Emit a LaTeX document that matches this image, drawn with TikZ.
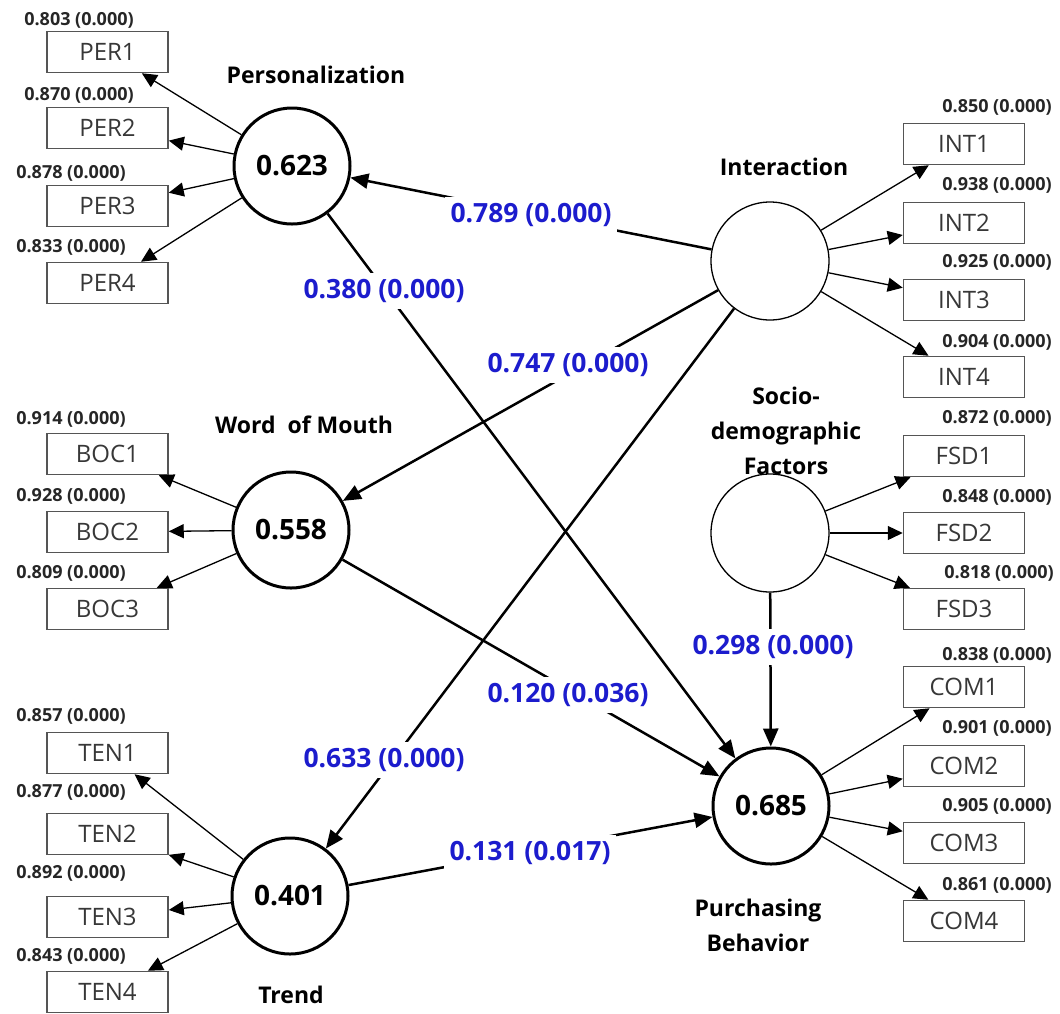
\documentclass[tikz,border=0pt]{standalone}
\usepackage{fontspec}
\setmainfont{Open Sans}
\usetikzlibrary{arrows.meta}
\definecolor{pathblue}{RGB}{28,28,205}
\definecolor{boxgray}{RGB}{85,85,85}
\definecolor{boxtext}{RGB}{55,55,55}
\begin{document}
\begin{tikzpicture}[x=1pt,y=-1pt,
  lv/.style={circle, draw, line width=3pt, minimum size=116pt, inner sep=0pt, font=\fontsize{28}{32}\selectfont\bfseries},
  lvthin/.style={circle, draw, line width=1.3pt, minimum size=118pt, inner sep=0pt},
  ind/.style={rectangle, draw=boxgray, line width=1.5pt, minimum width=121pt, minimum height=41pt, inner sep=0pt, text=boxtext, font=\fontsize{24}{28}\selectfont},
  ld/.style={font=\fontsize{18}{22}\selectfont\bfseries, text=black!85, inner sep=0pt},
  lvname/.style={font=\fontsize{23}{35}\selectfont\bfseries, align=center, inner sep=0pt},
  coef/.style={font=\fontsize{26.5}{30}\selectfont\bfseries, text=pathblue, fill=white, inner sep=6pt},
  struct/.style={line width=2.5pt, -{Triangle[length=18pt,width=15pt]}},
  meas/.style={line width=1.3pt, -{Triangle[length=15pt,width=14pt]}}]
\useasboundingbox (0,0) rectangle (1060,1013);

% latent variables
\node[lv] (P) at (292,166) {0.623};
\node[lvthin] (I) at (770,261) {};
\node[lv] (W) at (291,530) {0.558};
\node[lvthin] (S) at (770,533) {};
\node[lv] (T) at (290,896) {0.401};
\node[lv] (B) at (771,806) {0.685};

% indicators left
\node[ind] (PER1) at (107.5,52) {PER1};
\node[ind] (PER2) at (107.5,128) {PER2};
\node[ind] (PER3) at (107.5,206) {PER3};
\node[ind] (PER4) at (107.5,283) {PER4};
\node[ind] (BOC1) at (107.5,454) {BOC1};
\node[ind] (BOC2) at (107.5,532) {BOC2};
\node[ind] (BOC3) at (107.5,609) {BOC3};
\node[ind] (TEN1) at (107.5,753) {TEN1};
\node[ind] (TEN2) at (107.5,834) {TEN2};
\node[ind] (TEN3) at (107.5,917) {TEN3};
\node[ind] (TEN4) at (107.5,992) {TEN4};
% indicators right
\node[ind] (INT1) at (964,144) {INT1};
\node[ind] (INT2) at (964,223) {INT2};
\node[ind] (INT3) at (964,300) {INT3};
\node[ind] (INT4) at (964,377) {INT4};
\node[ind] (FSD1) at (964,456) {FSD1};
\node[ind] (FSD2) at (964,533) {FSD2};
\node[ind] (FSD3) at (964,609) {FSD3};
\node[ind] (COM1) at (964,687) {COM1};
\node[ind] (COM2) at (964,766) {COM2};
\node[ind] (COM3) at (964,843) {COM3};
\node[ind] (COM4) at (964,921) {COM4};

% measurement arrows
\foreach \k in {1,2,3,4} {\draw[meas] (P) -- (PER\k);}
\foreach \k in {1,2,3} {\draw[meas] (W) -- (BOC\k);}
\foreach \k in {1,2,3,4} {\draw[meas] (T) -- (TEN\k);}
\foreach \k in {1,2,3,4} {\draw[meas] (I) -- (INT\k);}
\foreach \k in {1,2,3} {\draw[meas] (S) -- (FSD\k);}
\foreach \k in {1,2,3,4} {\draw[meas] (B) -- (COM\k);}

% structural paths
\draw[struct] (I) -- (P);
\draw[struct] (I) -- (W);
\draw[struct] (I) -- (T);
\draw[struct] (P) -- (B);
\draw[struct] (W) -- (B);
\draw[struct] (T) -- (B);
\draw[struct] (S) -- (B);

% path coefficients
\node[coef] (c1) at (531,215) {0.789 (0.000)};
\node[coef] (c2) at (384,291) {0.380 (0.000)};
\node[coef] (c3) at (568,365) {0.747 (0.000)};
\node[coef] (c4) at (384,760) {0.633 (0.000)};
\node[coef] (c5) at (568,695) {0.120 (0.036)};
\node[coef] (c6) at (530,853) {0.131 (0.017)};
\node[coef] (c7) at (773,647) {0.298 (0.000)};

% loadings
\node[ld] (l1) at (79,20) {0.803 (0.000)};
\node[ld] (l2) at (79,95) {0.870 (0.000)};
\node[ld] (l3) at (71,173) {0.878 (0.000)};
\node[ld] (l4) at (71,247) {0.833 (0.000)};
\node[ld] (l5) at (71,419) {0.914 (0.000)};
\node[ld] (l6) at (71,496) {0.928 (0.000)};
\node[ld] (l7) at (71,573) {0.809 (0.000)};
\node[ld] (l8) at (71,716) {0.857 (0.000)};
\node[ld] (l9) at (71,792) {0.877 (0.000)};
\node[ld] (l10) at (71,873) {0.892 (0.000)};
\node[ld] (l11) at (71,956) {0.843 (0.000)};
\node[ld] (r1) at (997,107) {0.850 (0.000)};
\node[ld] (r2) at (997,185) {0.938 (0.000)};
\node[ld] (r3) at (997,262) {0.925 (0.000)};
\node[ld] (r4) at (997,342) {0.904 (0.000)};
\node[ld] (r5) at (997,418) {0.872 (0.000)};
\node[ld] (r6) at (997,497) {0.848 (0.000)};
\node[ld] (r7) at (999,573) {0.818 (0.000)};
\node[ld] (r8) at (997,655) {0.838 (0.000)};
\node[ld] (r9) at (997,728) {0.901 (0.000)};
\node[ld] (r10) at (997,806) {0.905 (0.000)};
\node[ld] (r11) at (997,885) {0.861 (0.000)};

% construct names
\node[lvname] (nP) at (316,75) {Personalization};
\node[lvname] (nI) at (784,167) {Interaction};
\node[lvname] (nW) at (304,425) {Word~ of Mouth};
\node[lvname] (nS) at (786,431) {Socio-\\demographic\\Factors};
\node[lvname] (nT) at (291,995) {Trend};
\node[lvname] (nB) at (758,925) {Purchasing\\Behavior};
\end{tikzpicture}
\end{document}
